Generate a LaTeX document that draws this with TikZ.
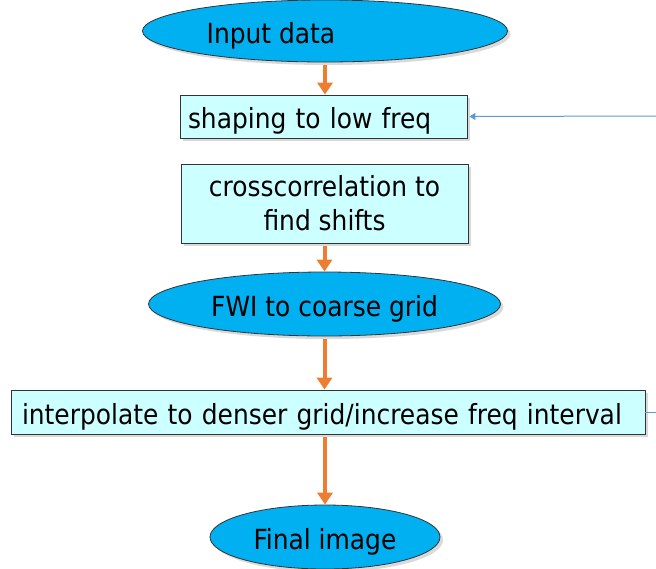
\documentclass[tikz,border=0pt]{standalone}
\usepackage{fontspec}
\setmainfont{DejaVu Sans Condensed}
\usetikzlibrary{arrows.meta,shapes.geometric,shadows}
\definecolor{ellblue}{HTML}{00B0F0}
\definecolor{boxcyan}{HTML}{CCFFFF}
\definecolor{arrorange}{HTML}{ED7D31}
\definecolor{lineblue}{HTML}{5B9BD5}
\begin{document}
\begin{tikzpicture}[x=1pt,y=-1pt,
  txt/.style={font=\fontsize{27.7}{34}\selectfont},
  oneline/.style={text height=26pt,text depth=2pt},
  ell/.style={ellipse,draw=black!80,line width=0.8pt,fill=ellblue,inner sep=0pt,
    drop shadow={shadow xshift=3pt,shadow yshift=-3pt,fill=black!15,opacity=1},txt},
  boxnode/.style={rectangle,draw=black!80,line width=0.8pt,fill=boxcyan,inner sep=0pt,
    drop shadow={shadow xshift=3pt,shadow yshift=-3pt,fill=black!15,opacity=1},txt},
  flow/.style={draw=arrorange,line width=4pt,-{Triangle[width=15pt,length=12pt]},shorten <=3pt},
  feed/.style={draw=lineblue,line width=1pt}
]
\useasboundingbox (0,0) rectangle (656,568);
\node[ell,minimum width=365pt,minimum height=62pt,
  label={[txt,oneline,xshift=-54pt]center:Input data}] (input) at (325,31) {};
\node[boxnode,oneline,minimum width=287pt,minimum height=43pt,text width=271pt,align=left] (shape) at (323.5,116.5) {shaping to low freq};
\node[boxnode,minimum width=287pt,minimum height=79pt,align=center] (xcorr) at (324.5,203.5) {crosscorrelation to\\find shifts};
\node[ell,oneline,minimum width=352pt,minimum height=64pt] (fwi) at (324.5,304) {FWI to coarse grid};
\node[boxnode,oneline,minimum width=634pt,minimum height=44pt,text width=612pt,align=left] (interp) at (328,412) {interpolate to denser grid/increase freq interval};
\node[ell,oneline,minimum width=230pt,minimum height=64pt] (final) at (325,537) {Final image};
\coordinate (fb1) at (656,116);
\coordinate (fb2) at (656,412);
\draw[flow] (input.south) -- (input.south |- shape.north);
\draw[flow] (xcorr.south) -- (xcorr.south |- fwi.north);
\draw[flow] (fwi.south) -- (fwi.south |- interp.north);
\draw[flow] (final.north |- interp.south) -- (final.north);
\draw[feed,-{Triangle[width=7pt,length=6pt]}] (fb1) -- ([xshift=2pt]shape.east);
\draw[feed] (interp.east) -- (fb2);
\end{tikzpicture}
\end{document}
